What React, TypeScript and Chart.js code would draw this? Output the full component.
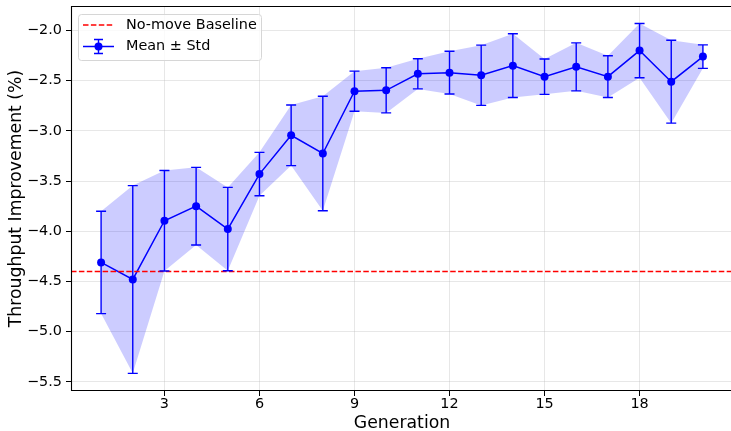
import React, { useEffect, useRef } from 'react';
import { Chart, registerables } from 'chart.js';

Chart.register(...registerables);

const generations = [1, 2, 3, 4, 5, 6, 7, 8, 9, 10, 11, 12, 13, 14, 15, 16, 17, 18, 19, 20];
const meanValues = [-4.31, -4.48, -3.895, -3.75, -3.978, -3.43, -3.044, -3.225, -2.605, -2.596, -2.432, -2.42, -2.446, -2.35, -2.46, -2.362, -2.46, -2.2, -2.51, -2.26];
const stdValues = [0.51, 0.935, 0.5, 0.387, 0.415, 0.216, 0.302, 0.57, 0.2, 0.225, 0.15, 0.213, 0.3, 0.318, 0.176, 0.239, 0.208, 0.27, 0.413, 0.117];
const baselineValue = -4.4;
const xTicks = [3, 6, 9, 12, 15, 18];
const yTicks = [-2.0, -2.5, -3.0, -3.5, -4.0, -4.5, -5.0, -5.5];
const xRange = [0.05, 20.95];
const yRange = [-5.591, -1.756];

const FONT = "'DejaVu Sans', sans-serif";
const BLUE = '#0000ff';
const RED = '#ff0000';
const minus = (s: string) => s.replace('-', '\u2212');

const overlayPlugin = {
  id: 'overlay',
  afterDatasetsDraw(chart: any) {
    const { ctx, chartArea, scales } = chart;
    const xs = scales.x;
    const ys = scales.y;
    ctx.save();
    ctx.beginPath();
    ctx.rect(chartArea.left, chartArea.top, chartArea.right - chartArea.left, chartArea.bottom - chartArea.top);
    ctx.clip();
    const by = ys.getPixelForValue(baselineValue);
    ctx.strokeStyle = RED;
    ctx.lineWidth = 1.5;
    ctx.setLineDash([5.5, 2.4]);
    ctx.beginPath();
    ctx.moveTo(chartArea.left, by);
    ctx.lineTo(chartArea.right, by);
    ctx.stroke();
    ctx.setLineDash([]);
    ctx.strokeStyle = BLUE;
    ctx.lineWidth = 1.4;
    generations.forEach((g, i) => {
      const px = xs.getPixelForValue(g);
      const top = ys.getPixelForValue(meanValues[i] + stdValues[i]);
      const bot = ys.getPixelForValue(meanValues[i] - stdValues[i]);
      ctx.beginPath();
      ctx.moveTo(px, top);
      ctx.lineTo(px, bot);
      ctx.moveTo(px - 5, top);
      ctx.lineTo(px + 5, top);
      ctx.moveTo(px - 5, bot);
      ctx.lineTo(px + 5, bot);
      ctx.stroke();
    });
    ctx.restore();
  },
  afterDraw(chart: any) {
    const { ctx, chartArea } = chart;
    ctx.save();
    ctx.strokeStyle = '#000';
    ctx.lineWidth = 1.1;
    const l = Math.round(chartArea.left) + 0.5;
    const t = Math.round(chartArea.top) + 0.5;
    const b = Math.round(chartArea.bottom) - 0.5;
    const r = chartArea.right - 0.5;
    ctx.beginPath();
    ctx.moveTo(r, t);
    ctx.lineTo(l, t);
    ctx.lineTo(l, b);
    ctx.lineTo(r, b);
    ctx.lineTo(r, t);
    ctx.stroke();
    // legend
    const lx = 78.5, ly = 14.5, lw = 183, lh = 46, rr = 3;
    ctx.beginPath();
    ctx.moveTo(lx + rr, ly);
    ctx.arcTo(lx + lw, ly, lx + lw, ly + lh, rr);
    ctx.arcTo(lx + lw, ly + lh, lx, ly + lh, rr);
    ctx.arcTo(lx, ly + lh, lx, ly, rr);
    ctx.arcTo(lx, ly, lx + lw, ly, rr);
    ctx.closePath();
    ctx.fillStyle = 'rgba(255,255,255,0.8)';
    ctx.fill();
    ctx.strokeStyle = '#d6d6d6';
    ctx.lineWidth = 1;
    ctx.stroke();
    const y1 = 25, y2 = 46.5;
    ctx.strokeStyle = RED;
    ctx.lineWidth = 1.5;
    ctx.setLineDash([5.5, 2.4]);
    ctx.beginPath();
    ctx.moveTo(83, y1);
    ctx.lineTo(114, y1);
    ctx.stroke();
    ctx.setLineDash([]);
    ctx.strokeStyle = BLUE;
    ctx.beginPath();
    ctx.moveTo(83, y2);
    ctx.lineTo(114, y2);
    ctx.stroke();
    ctx.lineWidth = 1.4;
    ctx.beginPath();
    ctx.moveTo(98.5, y2 - 7);
    ctx.lineTo(98.5, y2 + 7);
    ctx.moveTo(94, y2 - 7);
    ctx.lineTo(103, y2 - 7);
    ctx.moveTo(94, y2 + 7);
    ctx.lineTo(103, y2 + 7);
    ctx.stroke();
    ctx.fillStyle = BLUE;
    ctx.beginPath();
    ctx.arc(98.5, y2, 4, 0, Math.PI * 2);
    ctx.fill();
    ctx.fillStyle = '#000';
    ctx.font = `14.4px ${FONT}`;
    ctx.textBaseline = 'middle';
    ctx.textAlign = 'left';
    ctx.fillText('No-move Baseline', 126, y1);
    ctx.fillText('Mean \u00b1 Std', 126, y2);
    ctx.restore();
  },
};

export default function App() {
  const ref = useRef<HTMLCanvasElement | null>(null);
  useEffect(() => {
    if (!ref.current) return;
    const upper = generations.map((g, i) => ({ x: g, y: meanValues[i] + stdValues[i] }));
    const lower = generations.map((g, i) => ({ x: g, y: meanValues[i] - stdValues[i] }));
    const mean = generations.map((g, i) => ({ x: g, y: meanValues[i] }));
    const chart = new Chart(ref.current, {
      type: 'line',
      data: {
        datasets: [
          { data: upper, fill: '+1', backgroundColor: 'rgba(0,0,255,0.2)', borderWidth: 0, pointRadius: 0, borderColor: 'rgba(0,0,0,0)' },
          { data: lower, fill: false, borderWidth: 0, pointRadius: 0, borderColor: 'rgba(0,0,0,0)' },
          { data: mean, borderColor: BLUE, borderWidth: 1.5, pointRadius: 4, pointBackgroundColor: BLUE, pointBorderWidth: 0, fill: false, tension: 0 },
        ],
      },
      options: {
        animation: false,
        responsive: false,
        devicePixelRatio: 1,
        layout: { autoPadding: false, padding: { top: 6, right: 0, left: 0, bottom: 0 } },
        plugins: { legend: { display: false }, tooltip: { enabled: false } },
        scales: {
          x: {
            type: 'linear',
            min: xRange[0],
            max: xRange[1],
            afterBuildTicks: (s: any) => { s.ticks = xTicks.map((v) => ({ value: v })); },
            afterFit: (s: any) => { s.height = 40; s.paddingLeft = 0; s.paddingRight = 0; },
            grid: { color: 'rgba(176,176,176,0.3)', lineWidth: 1, tickColor: '#000', tickLength: 5, drawTicks: true },
            border: { display: false },
            ticks: { color: '#000', font: { family: FONT, size: 14.4 }, padding: 0, maxRotation: 0, callback: (v: any) => String(v) },
            title: { display: true, text: 'Generation', color: '#000', font: { family: FONT, size: 17.3, lineHeight: 1 }, padding: { top: 0, bottom: -1.5 } },
          },
          y: {
            type: 'linear',
            min: yRange[0],
            max: yRange[1],
            afterBuildTicks: (s: any) => { s.ticks = yTicks.map((v) => ({ value: v })); },
            afterFit: (s: any) => { s.width = 71; s.paddingTop = 0; s.paddingBottom = 0; },
            grid: { color: 'rgba(176,176,176,0.3)', lineWidth: 1, tickColor: '#000', tickLength: 5, drawTicks: true },
            border: { display: false },
            ticks: { color: '#000', font: { family: FONT, size: 14.4 }, padding: 4, callback: (v: any) => minus(Number(v).toFixed(1)) },
            title: { display: true, text: 'Throughput Improvement (%)', color: '#000', font: { family: FONT, size: 17.3, lineHeight: 1 }, padding: { top: 8, bottom: 0 } },
          },
        },
      },
      plugins: [overlayPlugin],
    });
    return () => chart.destroy();
  }, []);
  return (
    <div style={{ position: 'fixed', left: 0, top: 0, width: 731, height: 431, overflow: 'hidden', background: '#fff' }}>
      <canvas ref={ref} width={733} height={431} style={{ width: 733, height: 431, display: 'block' }} />
    </div>
  );
}
